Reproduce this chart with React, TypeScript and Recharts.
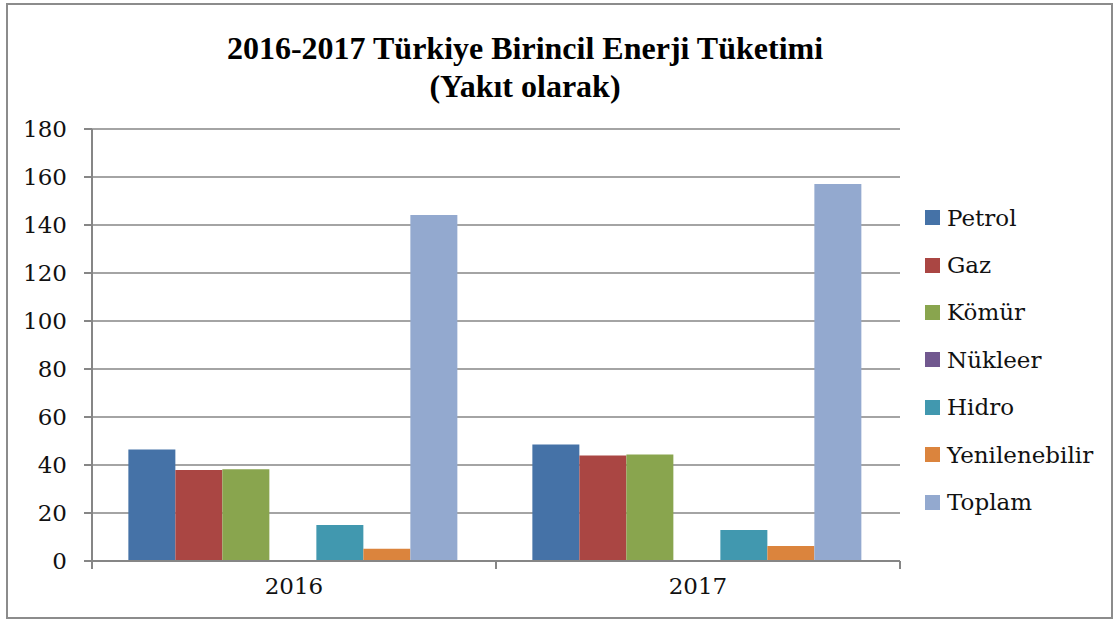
import { ComposedChart, Bar, Line, XAxis, YAxis, CartesianGrid } from "recharts";

const years = ["2016", "2017"];
const petrol = [46.5, 48.5];
const gaz = [37.9, 44.0];
const komur = [38.2, 44.4];
const nukleer = [0, 0];
const hidro = [15.0, 12.9];
const yenilenebilir = [5.1, 6.3];
const toplam = [144.2, 157.1];
const yTicks = [0, 20, 40, 60, 80, 100, 120, 140, 160, 180];
const xTicks = [0, 0.5, 1, 1.5, 2];

const series = [
  { key: "Petrol", values: petrol, color: "#4572A7" },
  { key: "Gaz", values: gaz, color: "#AA4643" },
  { key: "Kömür", values: komur, color: "#89A54E" },
  { key: "Nükleer", values: nukleer, color: "#71588F" },
  { key: "Hidro", values: hidro, color: "#4198AF" },
  { key: "Yenilenebilir", values: yenilenebilir, color: "#DB843D" },
  { key: "Toplam", values: toplam, color: "#93A9CF" },
];

const data = years.map((year, i) => {
  const row: Record<string, string | number> = { year, pos: i + 0.5 };
  series.forEach((s) => {
    row[s.key] = s.values[i];
  });
  return row;
});

const FONT = '"Liberation Serif", "Times New Roman", serif';
const TICK_FONT = '"DejaVu Serif", serif';
const GRID = "#868686";

// boundary tick marks at whole numbers, year labels in between
function YearTick(props: any) {
  const { x, y, payload } = props;
  const v = payload.value as number;
  if (Number.isInteger(v)) {
    return <line x1={x} x2={x} y1={y} y2={y + 8} stroke={GRID} strokeWidth={2} />;
  }
  return (
    <text x={x} y={y + 17} dy="0.71em" textAnchor="middle" fontFamily={TICK_FONT} fontSize={23} fill="#111">
      {years[Math.floor(v)]}
    </text>
  );
}

function LegendBox() {
  return (
    <div style={{ position: "absolute", left: 925, top: 194, fontFamily: TICK_FONT, fontSize: 23, color: "#111" }}>
      {series.map((s) => (
        <div key={s.key} style={{ display: "flex", alignItems: "center", height: 47.4 }}>
          <span style={{ width: 15, height: 15, background: s.color, marginRight: 7 }} />
          {s.key}
        </div>
      ))}
    </div>
  );
}

export default function App() {
  return (
    <div style={{ position: "absolute", left: 0, top: 0, width: 1117, height: 623, background: "#fff" }}>
      <div
        style={{
          position: "absolute",
          left: 6,
          top: 3,
          width: 1103,
          height: 612,
          border: "2px solid #8c8c8c",
        }}
      />
      <div
        style={{
          position: "absolute",
          left: 0,
          width: 1050,
          top: 29,
          textAlign: "center",
          fontFamily: FONT,
          fontWeight: "bold",
          fontSize: 32,
          lineHeight: "38px",
          color: "#000",
        }}
      >
        2016-2017 Türkiye Birincil Enerji Tüketimi
        <br />
        (Yakıt olarak)
      </div>
      <div style={{ position: "absolute", left: 0, top: 0 }}>
        <ComposedChart
          width={1117}
          height={623}
          data={data}
          margin={{ top: 129, right: 217, bottom: 22, left: 32 }}
          barCategoryGap="9%"
          barGap={0}
        >
          <CartesianGrid vertical={false} stroke={GRID} strokeWidth={1.5} yAxisId="y" xAxisId="cat" />
          <XAxis xAxisId="cat" dataKey="year" hide height={0} />
          <XAxis
            xAxisId="edges"
            type="number"
            dataKey="pos"
            domain={[0, 2]}
            ticks={xTicks}
            interval={0}
            height={40}
            tickSize={0}
            tickMargin={0}
            tickLine={false}
            tick={<YearTick />}
            axisLine={{ stroke: GRID, strokeWidth: 2 }}
          />
          <YAxis
            yAxisId="y"
            width={60}
            domain={[0, 180]}
            ticks={yTicks}
            interval={0}
            tickSize={8}
            tickMargin={17}
            axisLine={{ stroke: GRID, strokeWidth: 2 }}
            tickLine={{ stroke: GRID, strokeWidth: 2 }}
            tick={{ fontFamily: TICK_FONT, fontSize: 23, fill: "#111" }}
          />
          {series.map((s) => (
            <Bar
              key={s.key}
              dataKey={s.key}
              xAxisId="cat"
              yAxisId="y"
              fill={s.color}
              isAnimationActive={false}
            />
          ))}
          <Line
            dataKey="Toplam"
            xAxisId="edges"
            yAxisId="y"
            stroke="none"
            dot={false}
            activeDot={false}
            legendType="none"
            isAnimationActive={false}
          />
        </ComposedChart>
      </div>
      <LegendBox />
    </div>
  );
}
